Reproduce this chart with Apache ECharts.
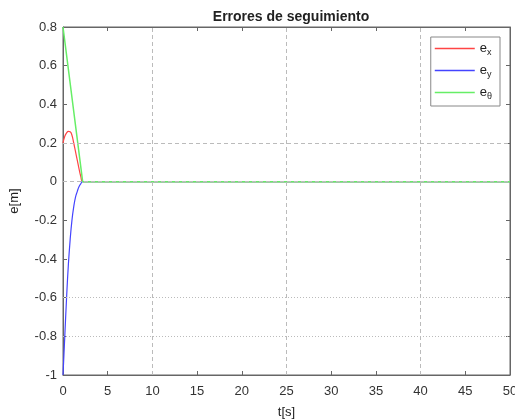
<!DOCTYPE html>
<html>
<head>
<meta charset="utf-8">
<script src="https://cdn.jsdelivr.net/npm/echarts@6/dist/echarts.min.js"></script>
<style>
  html, body { margin: 0; padding: 0; background: #fff; }
  #chart { width: 515px; height: 419px; }
</style>
</head>
<body>
<div id="chart"></div>
<script>
// tiempo [s] y errores
const tX = [0, 0.2, 0.4, 0.6, 0.8, 1.0, 1.2, 1.4, 1.6, 1.8, 2.0, 2.2, 50]
const ex = [0.2, 0.235, 0.252, 0.26, 0.258, 0.24, 0.2, 0.155, 0.11, 0.065, 0.025, 0, 0]
const tY = [0, 0.1, 0.2, 0.4, 0.6, 0.8, 1.0, 1.2, 1.4, 1.6, 1.8, 2.0, 2.2, 50]
const ey = [-1, -0.9, -0.8, -0.6, -0.43, -0.3, -0.2, -0.13, -0.08, -0.05, -0.025, -0.01, 0, 0]
const tTh = [0, 2.2, 50]
const eth = [0.8, 0, 0]

const seriesNames = ['ex', 'ey', 'eth']
const subLabels = { ex: 'x', ey: 'y', eth: 'θ' }

// lineas de rejilla visibles en la figura
const vGridDashed = [10, 25, 40]
const hGridDashed = [0.2, 0]
const hGridDotted = [-0.6, -0.8]

const pairs = (t, v) => t.map((x, i) => [x, v[i]])

const chart = echarts.init(document.getElementById('chart'))

const axisColor = '#666'
const gridColor = '#bbb'
const font = 'Liberation Sans'

const markData = []
vGridDashed.forEach(v => markData.push({ xAxis: v, lineStyle: { type: [4, 3] } }))
hGridDashed.forEach(v => markData.push({ yAxis: v, lineStyle: { type: [4, 3] } }))
hGridDotted.forEach(v => markData.push({ yAxis: v, lineStyle: { type: [1, 2] } }))

const boxAxis = {
  axisLine: { show: true, onZero: false, lineStyle: { color: axisColor } },
  axisTick: { show: true, inside: true, length: 4, lineStyle: { color: axisColor } },
  splitLine: { show: false }
}

chart.setOption({
  animation: false,
  title: {
    text: 'Errores de seguimiento',
    left: 286,
    textAlign: 'center',
    top: 5,
    textStyle: { fontSize: 14, fontWeight: 'bold', color: '#222', fontFamily: font }
  },
  legend: {
    data: seriesNames,
    orient: 'vertical',
    right: 15,
    top: 37,
    padding: [5, 8, 5, 4],
    icon: 'rect',
    itemWidth: 40,
    itemHeight: 1.5,
    itemGap: 7,
    backgroundColor: '#fff',
    borderColor: '#888',
    borderWidth: 1,
    formatter: name => '{b|e}{s|' + subLabels[name] + '}',
    textStyle: {
      color: '#222',
      rich: {
        b: { fontSize: 13, fontFamily: font },
        s: { fontSize: 9, fontFamily: font, padding: [8, 0, 0, 0] }
      }
    }
  },
  grid: {
    left: 63,
    right: 5,
    top: 27,
    bottom: 44,
    outerBoundsMode: 'none',
    show: true,
    borderColor: axisColor,
    borderWidth: 1,
    backgroundColor: '#fff'
  },
  xAxis: [
    Object.assign({}, boxAxis, {
      type: 'value',
      min: 0,
      max: 50,
      interval: 5,
      name: 't[s]',
      nameLocation: 'middle',
      nameGap: 31,
      nameTextStyle: { fontSize: 13, color: '#222', fontFamily: font },
      axisLabel: { fontSize: 13, color: '#333', margin: 10, fontFamily: font }
    }),
    Object.assign({}, boxAxis, {
      type: 'value',
      position: 'top',
      min: 0,
      max: 50,
      interval: 5,
      axisLabel: { show: false }
    })
  ],
  yAxis: [
    Object.assign({}, boxAxis, {
      type: 'value',
      min: -1,
      max: 0.8,
      interval: 0.2,
      name: 'e[m]',
      nameLocation: 'middle',
      nameGap: 42,
      nameRotate: 90,
      nameTextStyle: { fontSize: 13, color: '#222', fontFamily: font },
      axisLabel: {
        fontSize: 13,
        color: '#333',
        margin: 6,
        fontFamily: font,
        formatter: v => String(Math.round(v * 10) / 10)
      }
    }),
    Object.assign({}, boxAxis, {
      type: 'value',
      position: 'right',
      min: -1,
      max: 0.8,
      interval: 0.2,
      axisLabel: { show: false }
    })
  ],
  series: [
    {
      name: 'grid',
      type: 'line',
      data: [],
      z: 1,
      silent: true,
      markLine: {
        silent: true,
        symbol: 'none',
        label: { show: false },
        lineStyle: { color: gridColor, width: 1 },
        data: markData
      }
    },
    {
      name: 'ex',
      type: 'line',
      data: pairs(tX, ex),
      symbol: 'none',
      smooth: true,
      z: 3,
      lineStyle: { color: '#ff4444', width: 1.2 },
      itemStyle: { color: '#ff4444' }
    },
    {
      name: 'ey',
      type: 'line',
      data: pairs(tY, ey),
      symbol: 'none',
      smooth: true,
      z: 3,
      lineStyle: { color: '#4444ff', width: 1.2 },
      itemStyle: { color: '#4444ff' }
    },
    {
      name: 'eth',
      type: 'line',
      data: pairs(tTh, eth),
      symbol: 'none',
      z: 4,
      lineStyle: { color: '#66ee66', width: 1.5 },
      itemStyle: { color: '#66ee66' }
    }
  ]
})
</script>
</body>
</html>
